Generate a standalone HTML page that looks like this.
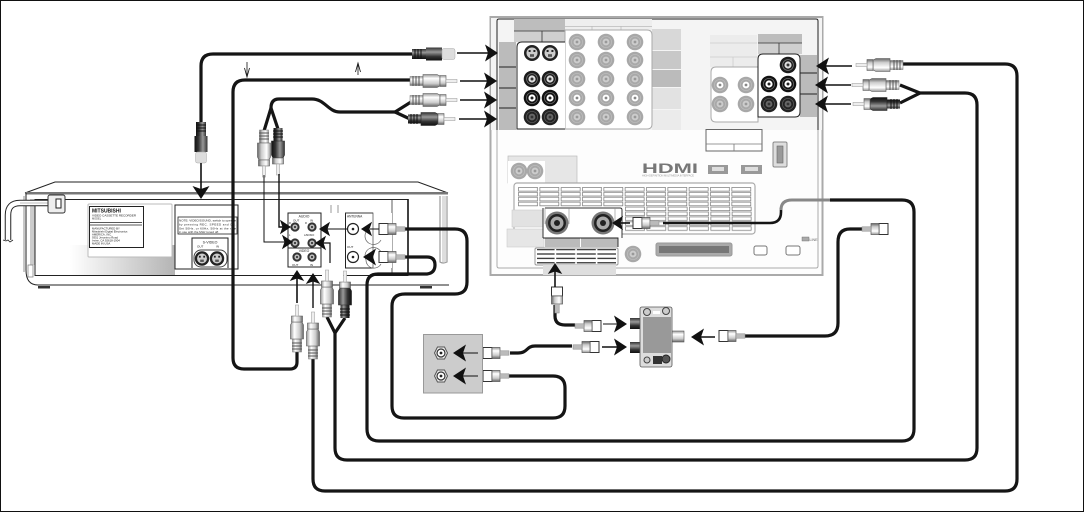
<!DOCTYPE html>
<html><head><meta charset="utf-8"><style>
html,body{margin:0;padding:0;background:#fff}
svg{display:block}
text{font-family:"Liberation Sans",sans-serif}
</style></head><body>
<svg xmlns="http://www.w3.org/2000/svg" width="1084" height="512" viewBox="0 0 1084 512">
<defs>
<linearGradient id="gB" x1="0" y1="0" x2="0" y2="1"><stop offset="0" stop-color="#999"/><stop offset=".3" stop-color="#fff"/><stop offset=".7" stop-color="#ccc"/><stop offset="1" stop-color="#666"/></linearGradient>
<linearGradient id="gD" x1="0" y1="0" x2="0" y2="1"><stop offset="0" stop-color="#333"/><stop offset=".35" stop-color="#999"/><stop offset=".7" stop-color="#333"/><stop offset="1" stop-color="#111"/></linearGradient>
<linearGradient id="gV" x1="0" y1="0" x2="1" y2="0"><stop offset="0" stop-color="#fff"/><stop offset="1" stop-color="#b4b4b4"/></linearGradient>
<pattern id="slot" width="21.33" height="4.9" patternUnits="userSpaceOnUse"><rect x=".5" y=".5" width="19" height="3.6" fill="#fff" stroke="#777" stroke-width=".7"/></pattern>
<pattern id="slotK" width="20.6" height="4.4" patternUnits="userSpaceOnUse"><rect width="20.6" height="4.4" fill="#fff"/><rect y="2.6" width="19" height="1.2" fill="#222"/></pattern>
<g id="ah"><polygon points="0,0 -13,-8.5 -10,0 -13,8.5" fill="#111"/></g>
<g id="rca">
<rect x="0" y="-4.5" width="13" height="9" fill="url(#gB)" stroke="#777" stroke-width=".5"/>
<path d="M3-5v10M6-5v10M9-5v10" stroke="#555" stroke-width="1"/>
<path d="M13-6.5H27L30-5V5L27 6.5H13Z" fill="url(#gB)" stroke="#555" stroke-width=".6"/>
<path d="M30-5.5H36V5.5H30Z" fill="url(#gB)" stroke="#555" stroke-width=".6"/>
<rect x="36" y="-1.6" width="11" height="3.2" fill="#eee" stroke="#999" stroke-width=".5"/>
</g>
<g id="rcad">
<rect x="0" y="-4.5" width="13" height="9" fill="url(#gD)"/>
<path d="M3-5v10M6-5v10M9-5v10" stroke="#111" stroke-width="1"/>
<path d="M13-6.5H27L30-5V5L27 6.5H13Z" fill="url(#gD)" stroke="#222" stroke-width=".6"/>
<path d="M30-5.5H36V5.5H30Z" fill="url(#gB)" stroke="#555" stroke-width=".6"/>
<rect x="36" y="-1.6" width="11" height="3.2" fill="#eee" stroke="#999" stroke-width=".5"/>
</g>
<g id="coax">
<rect x="0" y="-5.5" width="9" height="11" fill="#fff" stroke="#333" stroke-width="1"/>
<rect x="9" y="-5.5" width="8" height="11" fill="url(#gB)" stroke="#555" stroke-width=".7"/>
<rect x="17" y="-2.2" width="9" height="4.4" fill="#bbb" stroke="#888" stroke-width=".5"/>
</g>
<g id="jk"><circle r="8.3" fill="#1a1a1a"/><circle r="5.4" fill="none" stroke="#777" stroke-width=".8"/><circle r="3.6" fill="#ddd"/><circle r="1.5" fill="#333"/></g>
<g id="jw"><circle r="8.3" fill="#111"/><circle r="5.6" fill="none" stroke="#666" stroke-width=".8"/><circle r="3.6" fill="#fff"/><circle r="1.5" fill="#222"/></g>
<g id="jd"><circle r="8.3" fill="#222"/><circle r="5.6" fill="none" stroke="#555" stroke-width=".8"/><circle r="3.4" fill="#666"/><circle r="1.4" fill="#333"/></g>
<g id="jg"><circle r="8.3" fill="#a8a8a8"/><circle r="5.6" fill="none" stroke="#bbb" stroke-width=".8"/><circle r="3.4" fill="#ccc"/><circle r="1.4" fill="#999"/></g>
<g id="jgw"><circle r="8.3" fill="#a8a8a8"/><circle r="5.6" fill="none" stroke="#bbb" stroke-width=".8"/><circle r="3.4" fill="#fff"/><circle r="1.4" fill="#888"/></g>
<g id="sv"><circle r="8" fill="#222"/><circle r="5.5" fill="#ccc"/><rect x="-3.4" y="-3" width="2" height="2" fill="#222"/><rect x="1.4" y="-3" width="2" height="2" fill="#222"/><rect x="-2" y="1.2" width="4" height="2.6" fill="#555"/></g>
<g id="vj"><circle r="4.6" fill="#333"/><circle r="2.6" fill="#bbb"/><circle r="1" fill="#222"/></g>
<g id="wall"><polygon points="-6.5,0 -3.5,-6 3.5,-6 6.5,0 3.5,6 -3.5,6" fill="#eee" stroke="#555"/><circle r="4" fill="#fff" stroke="#333" stroke-width="1.2"/><circle r="1.4" fill="#222"/></g>
</defs>

<rect x=".5" y=".5" width="1083" height="511" fill="#fff" stroke="#111"/>

<!-- TV panel -->
<rect x="490.5" y="17" width="332" height="258" fill="#fdfdfd" stroke="#aaa" stroke-width="2"/>
<rect x="491" y="18" width="331" height="112" fill="#f4f4f4"/>
<path d="M497 130V21Q497 19 499 19H816Q818 19 818 21V130" fill="none" stroke="#222" stroke-width="1"/>
<path d="M497 130V266Q497 268 499 268H816Q818 268 818 266V130" fill="none" stroke="#aaa" stroke-width="1"/>
<rect x="565" y="19" width="87" height="11" fill="#eee"/>
<path d="M565 26.5H652M592 26V30M621 26V30" stroke="#bbb" stroke-width=".8"/>
<rect x="514" y="19" width="51" height="12" fill="#bdbdbd"/>
<rect x="514" y="31" width="51" height="11" fill="#cfcfcf"/>
<path d="M514 31H565M542 31V42" stroke="#333" stroke-width=".8"/>
<rect x="499" y="42" width="17" height="88" fill="#bbb"/>
<path d="M499 67H516M499 88H516M499 108H516" stroke="#222" stroke-width=".9"/>
<rect x="652" y="29" width="29" height="21" fill="#d8d8d8"/>
<rect x="652" y="51" width="29" height="18" fill="#c8c8c8"/>
<rect x="652" y="70" width="29" height="17" fill="#bbb"/>
<rect x="652" y="88" width="29" height="21" fill="#e2e2e2"/>
<rect x="652" y="110" width="29" height="20" fill="#ebebeb"/>
<path d="M565 30H647Q652 30 652 35V124Q652 129 647 129H565Z" fill="#fff" stroke="#aaa"/>
<path d="M565 42H522Q517 42 517 47V129H565" fill="#fff" stroke="#222"/>
<use href="#sv" x="532" y="53"/><use href="#sv" x="550" y="53"/>
<use href="#jk" x="532" y="79"/><use href="#jk" x="550" y="79"/>
<use href="#jw" x="532" y="98"/><use href="#jw" x="550" y="98"/>
<use href="#jd" x="532" y="117"/><use href="#jd" x="550" y="117"/>
<use href="#jg" x="577" y="42"/><use href="#jg" x="606" y="42"/><use href="#jg" x="635" y="42"/>
<use href="#jg" x="577" y="60"/><use href="#jg" x="606" y="60"/><use href="#jg" x="635" y="60"/>
<use href="#jg" x="577" y="79"/><use href="#jg" x="606" y="79"/><use href="#jg" x="635" y="79"/>
<use href="#jgw" x="577" y="98"/><use href="#jgw" x="606" y="98"/><use href="#jgw" x="635" y="98"/>
<use href="#jg" x="577" y="117"/><use href="#jg" x="606" y="117"/><use href="#jg" x="635" y="117"/>

<rect x="710" y="35" width="47" height="32" fill="#ececec"/>
<path d="M710 43H757M710 57H757M733 57V67" stroke="#ccc" stroke-width=".8"/>
<rect x="758" y="34" width="44" height="9" fill="#bdbdbd"/>
<rect x="758" y="43" width="44" height="11" fill="#cfcfcf"/>
<path d="M758 43H802M779 43V54" stroke="#333" stroke-width=".8"/>
<rect x="800" y="55" width="17" height="62" fill="#bbb"/>
<path d="M800 73H817M800 94H817" stroke="#222" stroke-width=".9"/>
<path d="M758 67H716Q711 67 711 72V117Q711 122 716 122H758Z" fill="#fff" stroke="#aaa"/>
<path d="M758 117H795Q800 117 800 112V59Q800 54 795 54H763Q758 54 758 59Z" fill="#fff" stroke="#222"/>
<use href="#jk" x="788" y="65"/>
<use href="#jw" x="769" y="84"/><use href="#jw" x="788" y="84"/>
<use href="#jd" x="769" y="104"/><use href="#jd" x="788" y="104"/>
<use href="#jgw" x="720" y="85"/><use href="#jgw" x="746" y="85"/>
<use href="#jg" x="720" y="104"/><use href="#jg" x="746" y="104"/>

<rect x="706" y="129.5" width="56" height="21.5" fill="#fff" stroke="#666"/>
<path d="M706 144H762M734 144V151" stroke="#777" stroke-width=".8"/>
<rect x="773" y="142" width="14" height="25" rx="1.5" fill="#ddd" stroke="#888"/>
<rect x="777" y="146" width="6" height="17" fill="#999" stroke="#666" stroke-width=".6"/>
<text x="642" y="173" font-size="14" font-weight="700" fill="#777" textLength="56" lengthAdjust="spacingAndGlyphs">HDMI</text>
<text x="642" y="176.5" font-size="2.6" fill="#999" textLength="52">HIGH-DEFINITION MULTIMEDIA INTERFACE</text>
<rect x="708" y="165" width="20" height="9" fill="#999"/><rect x="712" y="167" width="12" height="4" fill="#ddd"/>
<rect x="741" y="165" width="21" height="9" fill="#999"/><rect x="745" y="167" width="13" height="4" fill="#ddd"/>

<rect x="508" y="156" width="69" height="27" fill="#e6e6e6" stroke="#bbb" stroke-width=".7"/>
<rect x="508" y="161" width="37" height="23" fill="#fff"/>
<use href="#jg" x="519" y="171"/><use href="#jg" x="535" y="171"/>

<rect x="514" y="183" width="241" height="51" rx="3" fill="#fff" stroke="#aaa" stroke-width="1.2"/>
<g transform="translate(518,187)"><rect width="234" height="19.6" fill="url(#slot)"/></g>
<g transform="translate(625,206.6)"><rect width="127" height="24.5" fill="url(#slot)"/></g>
<rect x="512" y="210" width="31" height="17" fill="#e2e2e2" stroke="#ccc" stroke-width=".6"/>
<rect x="507" y="229" width="37" height="18" fill="#e6e6e6" stroke="#ccc" stroke-width=".6"/>
<rect x="543" y="208" width="79" height="30" fill="#fff"/>
<path d="M545 208H620Q622 208 622 210V238M543 208V238" fill="none" stroke="#333" stroke-width="1"/>
<path d="M569 208V224M615 208V224M545 208V224" stroke="#888" stroke-width=".6" fill="none"/>
<rect x="545" y="238" width="35" height="9" fill="#bbb"/><rect x="581" y="238" width="37" height="9" fill="#bbb"/>
<path d="M543 238H618V247" fill="none" stroke="#222" stroke-width=".9"/>
<rect x="535" y="248" width="83" height="17" rx="1.5" fill="#fff" stroke="#999"/>
<rect x="537" y="249" width="79" height="15" fill="url(#slotK)"/>
<rect x="543" y="265" width="73" height="10" fill="#dedede"/>
<g><circle cx="557" cy="223" r="11.5" fill="#777"/><circle cx="557" cy="223" r="9" fill="#222"/><circle cx="557" cy="223" r="6.5" fill="#aaa"/><circle cx="557" cy="223" r="3" fill="#222"/></g>
<g><circle cx="603" cy="223" r="11.5" fill="#777"/><circle cx="603" cy="223" r="9" fill="#222"/><circle cx="603" cy="223" r="6.5" fill="#aaa"/><circle cx="603" cy="223" r="3" fill="#222"/></g>
<use href="#jg" x="633" y="254"/>
<rect x="656" y="243" width="76" height="13" rx="2" fill="#aaa" stroke="#999"/>
<rect x="659" y="246" width="70" height="7" fill="#777"/>
<rect x="754" y="246" width="13" height="9" rx="2" fill="#fff" stroke="#777"/>
<rect x="786" y="246" width="14" height="9" rx="2" fill="#fff" stroke="#777"/>
<rect x="802" y="237" width="7" height="4" fill="#aaa" stroke="#666" stroke-width=".4"/>
<text x="809.5" y="241" font-size="3.6" fill="#666">LINE</text>

<!-- VCR -->
<path d="M25 193L55 182H418L448 193" fill="#fff" stroke="#222" stroke-width="1"/>
<path d="M25 285V197Q25 193 29 193H445Q449 193 449 197V270" fill="#fff"/>
<rect x="26" y="192" width="422" height="2.5" fill="#777"/>
<path d="M26 193V270Q26 285 38 285H449" fill="none" stroke="#222" stroke-width="1"/>
<path d="M24 196V272" stroke="#777" stroke-width=".8"/>
<rect x="30" y="199" width="5" height="66" fill="#ccc"/>
<rect x="28" y="265" width="5" height="12" fill="#fff" stroke="#777" stroke-width=".7"/>
<rect x="35" y="199.5" width="373" height="76" fill="#fff"/>
<rect x="70" y="245" width="105" height="30" fill="url(#gV)"/>
<rect x="35" y="199.5" width="373" height="76" fill="none" stroke="#222"/>
<path d="M392 200V275" stroke="#333" stroke-width=".8"/>
<path d="M408 199V275" stroke="#111" stroke-width="1.6"/>
<path d="M440 196V262Q443 264 447 262V196" fill="none" stroke="#999" stroke-width="1.2"/>
<rect x="442" y="196" width="4" height="66" fill="#ddd"/>
<path d="M38 286H50V288.5H38ZM420 286H432V288.5H420Z" fill="#333"/>

<!-- power cord -->
<path d="M62 203H20Q8 203 8 215V240" fill="none" stroke="#222" stroke-width="6.5"/>
<path d="M62 203H20Q8 203 8 215V240" fill="none" stroke="#fff" stroke-width="4.5"/>
<path d="M62 203H20" fill="none" stroke="#bbb" stroke-width="1"/>
<path d="M3 240L6 241L8 240L10 242L13 240" fill="none" stroke="#222" stroke-width=".8"/>
<rect x="48" y="195" width="17" height="18" rx="2" fill="#eee" stroke="#333"/>
<rect x="56" y="199" width="5" height="9" fill="#fff" stroke="#222"/>

<!-- VCR label -->
<rect x="88" y="204" width="84" height="53" rx="1" fill="#fff" stroke="#bbb"/>
<rect x="89.5" y="206.5" width="54" height="41" fill="#fff" stroke="#222"/>
<text x="92" y="212.5" font-size="5" font-weight="700" fill="#111">MITSUBISHI</text>
<text x="92" y="216.5" font-size="3" fill="#222">VIDEO CASSETTE RECORDER</text>
<text x="92" y="219.5" font-size="2.6" fill="#333">MODEL</text>
<path d="M90 222.5H142M90 225H142" stroke="#222" stroke-width=".7"/>
<text x="92" y="229.5" font-size="2.8" fill="#222">MANUFACTURED BY</text>
<text x="92" y="232.5" font-size="2.8" fill="#222">Mitsubishi Digital Electronics</text>
<text x="92" y="235.5" font-size="2.8" fill="#222">AMERICA, INC.</text>
<text x="92" y="238.5" font-size="2.8" fill="#222">9351 Jeronimo Road</text>
<text x="92" y="241.5" font-size="2.8" fill="#222">Irvine, CA 92618-1904</text>
<text x="92" y="244.5" font-size="2.8" fill="#222">MADE IN USA</text>

<!-- rear panels -->
<rect x="175" y="205" width="63" height="64" fill="#fff" stroke="#222"/>
<rect x="178" y="217" width="59" height="17" fill="#fff" stroke="#222" stroke-width=".8"/>
<text x="179" y="221.5" font-size="3" fill="#222" textLength="57">NOTE: VIDEO/SOUND, switch to operate</text>
<text x="179" y="225.5" font-size="3" fill="#222" textLength="57">by pressing REC. SPEED and CH.</text>
<text x="179" y="229.5" font-size="3" fill="#222" textLength="57">Set 50Hz, or 60Hz, 50Hz at the rate</text>
<text x="179" y="233" font-size="3" fill="#222" textLength="40">in use with the MHz tuned off.</text>
<path d="M192 268V238H228V268" fill="#fff" stroke="#222"/>
<text x="210" y="243.5" font-size="3.6" fill="#222" text-anchor="middle">S-VIDEO</text>
<text x="197" y="247.5" font-size="3" fill="#222">OUT</text><text x="216" y="247.5" font-size="3" fill="#222">IN</text>
<rect x="194" y="250" width="33" height="17" rx="7" fill="#fff" stroke="#444"/>
<g transform="translate(202,258.5) scale(.9)"><use href="#sv"/></g><g transform="translate(217,258.5) scale(.9)"><use href="#sv"/></g>

<rect x="288" y="213" width="33" height="35" fill="#fff" stroke="#222"/>
<rect x="288" y="248" width="33" height="19" fill="#fff" stroke="#222"/>
<text x="304" y="217.5" font-size="3.4" fill="#222" text-anchor="middle">AUDIO</text>
<text x="293" y="221.5" font-size="3" fill="#222">OUT</text><text x="310" y="221.5" font-size="3" fill="#222">IN</text>
<text x="289" y="224" font-size="2.6" fill="#222">R</text><text x="305" y="224" font-size="2.6" fill="#222">R</text>
<text x="289" y="236" font-size="2.6" fill="#222">L</text><text x="304" y="236" font-size="2.6" fill="#222">L/MONO</text>
<text x="304" y="252" font-size="3.4" fill="#222" text-anchor="middle">VIDEO</text>
<text x="292" y="266" font-size="3" fill="#222">OUT</text><text x="310" y="266" font-size="3" fill="#222">IN</text>
<use href="#vj" x="295" y="227"/><use href="#vj" x="312" y="227"/>
<use href="#vj" x="295" y="243"/><use href="#vj" x="312" y="243"/>
<use href="#vj" x="297" y="257"/><use href="#vj" x="312" y="257"/>

<rect x="345" y="213" width="47" height="55" fill="#fff"/>
<path d="M373 213H345.5V268H373" fill="none" stroke="#222" stroke-width="1"/>
<path d="M345 213H373V268" fill="none" stroke="#444" stroke-width=".7"/>
<text x="347" y="217.5" font-size="3.2" fill="#222">ANTENNA</text>
<text x="347" y="248" font-size="3" fill="#222">OUT</text>
<circle cx="353" cy="229" r="5.5" fill="#fff" stroke="#222" stroke-width="1.2"/><circle cx="353" cy="229" r="1.3" fill="#222"/>
<circle cx="353" cy="257" r="5.5" fill="#fff" stroke="#222" stroke-width="1.2"/><circle cx="353" cy="257" r="1.3" fill="#222"/>
<path d="M366 232A8 8 0 0 0 381 240" fill="none" stroke="#666" stroke-width=".7"/>
<path d="M381 252A8 8 0 0 0 366 260A8 8 0 0 0 381 264" fill="none" stroke="#666" stroke-width=".7"/>
<path d="M331 205V213M338 205V213" stroke="#aaa" stroke-width="1.2"/>
<rect x="322" y="268" width="21" height="15" fill="#fff"/>

<!-- cables -->
<g fill="none" stroke="#151515" stroke-width="3.2">
<path d="M414 54H213Q201 54 201 66V123"/>
<path d="M412 80H245Q233 80 233 92V358Q233 369 244 369H290Q297 369 297 362V352"/>
<path d="M395 112H340C328 112 325 99 312 99H279Q271 99 271 108"/>
<path d="M271 108L264 131M271 108L278 129"/>
<path d="M411 102L395 112L410 119"/>
<path d="M313 358V479Q313 491 325 491H1005Q1017 491 1017 479V76Q1017 64 1005 64H903"/>
<path d="M327 317L335 333L345 318"/>
<path d="M335 333V448Q335 460 347 460H965Q977 460 977 448V105Q977 93 965 93H920"/>
<path d="M900 85L920 93L900 103"/>
<path d="M405 229H455Q467 229 467 241V282Q467 294 455 294H405Q392 294 392 306V406Q392 418 404 418H553Q565 418 565 406V388Q565 376 553 376H509"/>
<path d="M405 257H427Q435 257 435 265T427 274H378Q367 274 367 285V429Q367 441 379 441H902Q914 441 914 429V212Q914 200 902 200H830"/>
<path d="M663 223H770Q781 223 781 212V208" stroke-width="2.6"/>
<path d="M738 336H825Q838 336 838 323V242Q838 229 850 229H868"/>
<path d="M510 353H518C528 353 526 346 535 346H572"/>
<path d="M555 305V316Q555 325 565 325H575"/>
</g>
<path d="M830 200H792Q781 200 781 210" fill="none" stroke="#888" stroke-width="3"/>

<!-- plugs and connectors -->
<g transform="translate(412,54)">
<rect x="0" y="-5" width="14" height="10" fill="url(#gD)"/><path d="M3-5v10M6-5v10M9-5v10" stroke="#111"/>
<path d="M14-6.5H30V6.5H14Z" fill="url(#gD)"/>
<rect x="30" y="-5.5" width="13" height="11" rx="2" fill="#ddd" stroke="#aaa" stroke-width=".5"/>
</g>
<g transform="translate(201,122) rotate(90)">
<rect x="0" y="-5" width="14" height="10" fill="url(#gD)"/><path d="M3-5v10M6-5v10M9-5v10" stroke="#111"/>
<path d="M14-6.5H30V6.5H14Z" fill="url(#gD)"/>
<rect x="30" y="-5.5" width="11" height="11" rx="2" fill="#ddd" stroke="#aaa" stroke-width=".5"/>
</g>
<use href="#rca" transform="translate(410,81)"/>
<use href="#rca" transform="translate(410,100)"/>
<use href="#rcad" transform="translate(408,119)"/>
<use href="#rca" transform="translate(264,130) rotate(90)"/>
<use href="#rcad" transform="translate(278,128) rotate(90)"/>
<use href="#rca" transform="translate(903,65) rotate(180)"/>
<use href="#rca" transform="translate(899,85) rotate(180)"/>
<use href="#rcad" transform="translate(900,104) rotate(180)"/>
<use href="#rca" transform="translate(297,352) rotate(-90)"/>
<use href="#rca" transform="translate(313,359) rotate(-90)"/>
<use href="#rca" transform="translate(327,317) rotate(-90)"/>
<use href="#rcad" transform="translate(345,318) rotate(-90)"/>

<use href="#coax" transform="translate(379,229)"/>
<use href="#coax" transform="translate(379,257)"/>
<use href="#coax" transform="translate(633,223)"/>
<use href="#coax" transform="translate(557,287) rotate(90)"/>
<use href="#coax" transform="translate(601,326) rotate(180)"/>
<use href="#coax" transform="translate(599,347) rotate(180)"/>
<use href="#coax" transform="translate(483,353)"/>
<use href="#coax" transform="translate(483,376)"/>
<use href="#coax" transform="translate(719,336)"/>
<use href="#coax" transform="translate(888,229) rotate(180)"/>

<!-- wall plate -->
<rect x="423.5" y="334.5" width="59" height="58.5" fill="#ccc" stroke="#999"/>
<use href="#wall" x="441" y="353"/><use href="#wall" x="441" y="376"/>

<!-- splitter -->
<rect x="630" y="318" width="11" height="11" fill="url(#gD)"/>
<rect x="630" y="342" width="11" height="11" fill="url(#gD)"/>
<rect x="672" y="331" width="12" height="11" fill="url(#gB)" stroke="#555" stroke-width=".6"/>
<rect x="640" y="307" width="32" height="60" rx="2" fill="#ddd" stroke="#555" stroke-width=".8"/>
<rect x="643" y="317" width="28" height="36" fill="#999"/>
<circle cx="647" cy="312" r="3.5" fill="#ccc" stroke="#444"/><circle cx="666" cy="311" r="3.5" fill="#ccc" stroke="#444"/>
<rect x="653" y="311" width="7" height="3" fill="#fff"/>
<circle cx="647" cy="360" r="3" fill="#ccc" stroke="#444"/><circle cx="666" cy="359" r="4" fill="#555" stroke="#222"/>
<rect x="653" y="356" width="9" height="8" fill="#333"/>

<!-- arrows -->
<g stroke="#111" fill="none">
<path d="M457 53H490" stroke-width="1.6"/><path d="M460 81H490" stroke-width="1.6"/><path d="M460 100H490" stroke-width="1.6"/><path d="M459 119H490" stroke-width="1.4"/>
<path d="M852 66H825" stroke-width="1.6"/><path d="M851 85H823" stroke-width="1.6"/><path d="M851 104H823" stroke-width="1.6"/>
<path d="M201 163V190" stroke-width="1.6"/>
<path d="M264 175V242H285" stroke-width="1"/><path d="M279 174V227H285" stroke-width="1.4"/>
<path d="M347 229H326" stroke-width="1"/><path d="M330 263V243H322" stroke-width="1.2"/>
<path d="M297 303V278" stroke-width="1.6"/><path d="M313 308V280" stroke-width="1.4"/>
<path d="M379 229H370" stroke-width="1"/>
<path d="M630 223H620" stroke-width="1.6"/><path d="M555 287V270" stroke-width="1.6"/>
<path d="M603 324H620" stroke-width="1"/><path d="M602 347H620" stroke-width="1.4"/><path d="M715 337H698" stroke-width="1.6"/>
<path d="M478 353H460" stroke-width="1"/><path d="M478 376H460" stroke-width="1"/>
<path d="M247 62V77M358 63V75" stroke-width=".8"/>
<path d="M244.5 68L247 77L249.5 68M355.5 72L358 63L360.5 72" stroke-width=".8"/>
</g>
<use href="#ah" transform="translate(498,53)"/><use href="#ah" transform="translate(497,81)"/>
<use href="#ah" transform="translate(497,100)"/><use href="#ah" transform="translate(497,119)"/>
<use href="#ah" transform="translate(816,66) rotate(180)"/><use href="#ah" transform="translate(815,85) rotate(180)"/><use href="#ah" transform="translate(815,104) rotate(180)"/>
<use href="#ah" transform="translate(201,199) rotate(90)"/>
<use href="#ah" transform="translate(291,227) scale(.85)"/><use href="#ah" transform="translate(293,242) scale(.85)"/>
<use href="#ah" transform="translate(319,229) rotate(180) scale(.85)"/><use href="#ah" transform="translate(315,243) rotate(180) scale(.85)"/>
<use href="#ah" transform="translate(297,270) rotate(-90) scale(.85)"/><use href="#ah" transform="translate(313,273) rotate(-90) scale(.85)"/>
<use href="#ah" transform="translate(361,229) rotate(180) scale(.85)"/><use href="#ah" transform="translate(363,257) rotate(180) scale(1)"/>
<use href="#ah" transform="translate(612,223) rotate(180) scale(.85)"/>
<use href="#ah" transform="translate(555,263) rotate(-90) scale(.85)"/>
<use href="#ah" transform="translate(627,324)"/><use href="#ah" transform="translate(627,347)"/>
<use href="#ah" transform="translate(691,337) rotate(180)"/>
<use href="#ah" transform="translate(453,353) rotate(180)"/><use href="#ah" transform="translate(453,376) rotate(180)"/>
</svg>
</body></html>
